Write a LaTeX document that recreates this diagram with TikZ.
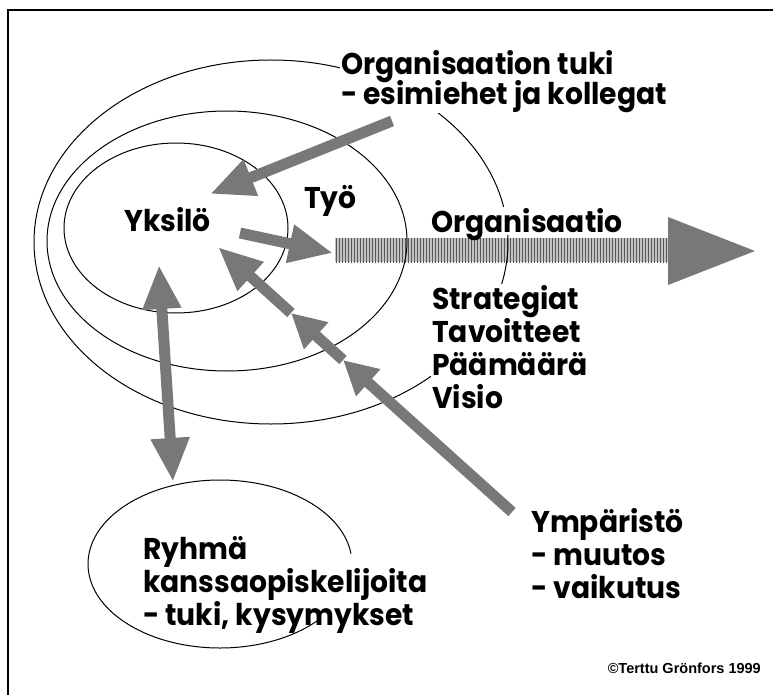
\documentclass[tikz,border=0pt]{standalone}
\usepackage{fontspec}
\setmainfont{Poppins}[FakeStretch=0.94]
\newfontfamily\copyfont{Liberation Sans}
\usepackage{tikz}
\usetikzlibrary{calc, arrows.meta, patterns}

\definecolor{arrowgray}{gray}{0.47}
\definecolor{bandgray}{gray}{0.76}

\begin{document}
\begin{tikzpicture}[x=1pt, y=-1pt,
    ring/.style={line width=1pt},
    lbl/.style={fill=white, inner sep=1pt, align=left, font=\fontsize{30}{33}\selectfont\bfseries},
    grayarrow/.style={draw=arrowgray, line width=11pt, -{Triangle[length=44pt, width=36pt]}},
    midhead/.style={draw=arrowgray, line width=11pt, -{Triangle[length=34pt, width=34pt]}}]
  \useasboundingbox (0,0) rectangle (773,695);
  \draw[line width=1.6pt] (8,695) -- (8,10) -- (773,10);

  \coordinate (tukitail) at (392,121);
  \coordinate (tukitip) at (210,194);
  \coordinate (ownstart) at (240,233);
  \coordinate (ownend) at (333,253);
  \coordinate (grouptop) at (159,265);
  \coordinate (groupbot) at (173,482);
  \coordinate (envtail) at (512,512);
  \coordinate (envh3) at (343,360);
  \coordinate (envh2) at (291,313);
  \coordinate (envtip) at (218,247);
  \coordinate (bandL) at (335,250);
  \coordinate (bandR) at (668,250);
  \coordinate (bandtip) at (755,251);

  % organisaation suunta
  \fill[bandgray] ($(bandL)+(0,-12)$) rectangle ($(bandR)+(0,12)$);
  \fill[pattern=vertical lines, pattern color=black!65] ($(bandL)+(0,-12)$) rectangle ($(bandR)+(0,12)$);
  \fill[arrowgray] ($(bandR)+(0,-33)$) -- (bandtip) -- ($(bandR)+(0,35)$) -- cycle;

  % kehät
  \draw[ring] (176,228) ellipse [x radius=112, y radius=85];
  \draw[ring] (227,241) ellipse [x radius=180, y radius=130];
  \draw[ring] (271,242) ellipse [x radius=237, y radius=182];
  \draw[ring] (220,564) ++(42:132 and 84) arc [start angle=42, end angle=353, x radius=132, y radius=84];

  \node[lbl, anchor=north west] (orgtuki) at (340,49) {Organisaation tuki\\[-3pt]- esimiehet ja kollegat};
  \node[lbl, anchor=base west] (yksilo) at (123,231) {Yksilö};
  \node[lbl, anchor=base west] (tyo) at (303,208) {Työ};
  \node[lbl, anchor=base west, text depth=2pt] (organisaatio) at (430,232) {Organisaatio};
  \node[lbl, anchor=north west] (strategiat) at (431,284) {Strategiat\\Tavoitteet\\Päämäärä\\Visio};
  \node[lbl, anchor=north west] (ymparisto) at (530,507) {Ympäristö\\- muutos\\- vaikutus};
  \node[lbl, fill=none, anchor=north west] (ryhma) at (142,535) {Ryhmä\\kanssaopiskelijoita\\- tuki, kysymykset};
  \node[anchor=base east, inner sep=0pt, font=\copyfont\bfseries\fontsize{14.5}{16}\selectfont] (copyright) at (761,673) {©Terttu Grönfors 1999};

  % nuolet
  \draw[grayarrow] (tukitail) -- (tukitip);
  \draw[grayarrow] (ownstart) -- (ownend);
  \draw[grayarrow, {Triangle[length=44pt, width=36pt]}-{Triangle[length=44pt, width=36pt]}] (groupbot) -- (grouptop);
  \draw[midhead] (envtail) -- (envh3);
  \draw[midhead] (envh3) -- (envh2);
  \draw[grayarrow] (envh2) -- (envtip);
\end{tikzpicture}
\end{document}
